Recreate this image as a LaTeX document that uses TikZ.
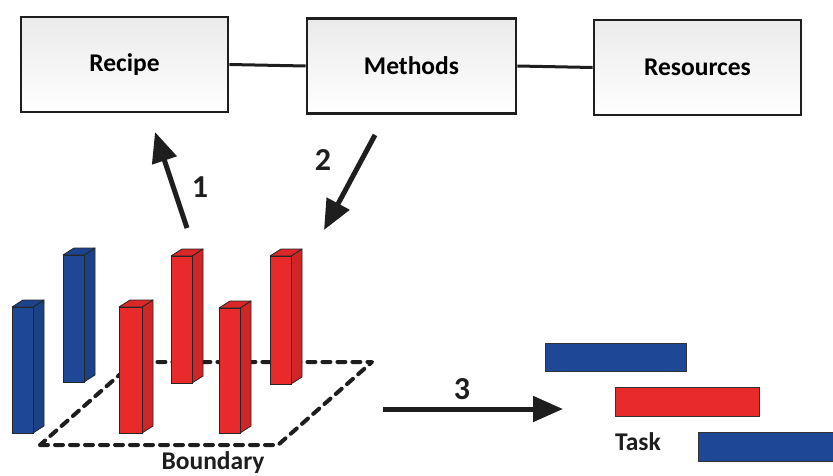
\documentclass[tikz,border=0pt]{standalone}
\usepackage{fontspec}
\setmainfont{Carlito}
\usetikzlibrary{arrows.meta}
\definecolor{barblue}{RGB}{30,72,150}
\definecolor{barred}{RGB}{232,42,42}
\definecolor{ink}{RGB}{30,30,30}
\newcommand\myprism[5]{%
  \path[fill=#5!90!black,draw=black!85,line width=0.8pt,line join=round]
    ({#1+#4},#2) -- ({#1+#4+11},{#2-7}) -- ({#1+#4+11},{#3-7}) -- ({#1+#4},#3) -- cycle;
  \path[fill=#5!94!black,draw=black!85,line width=0.8pt,line join=round]
    (#1,#2) -- ({#1+11},{#2-7}) -- ({#1+#4+11},{#2-7}) -- ({#1+#4},#2) -- cycle;
  \path[fill=#5,draw=black!85,line width=0.8pt] (#1,#2) rectangle ({#1+#4},#3);}
\tikzset{
  box/.style={draw=ink, line width=2.7pt, top color=gray!16, bottom color=white,
    minimum width=207pt, minimum height=95pt, inner sep=0pt,
    font=\fontsize{25.5}{28}\selectfont\bfseries},
  lbl/.style={inner sep=0pt, font=\fontsize{25.5}{28}\selectfont\bfseries, text=ink},
  num/.style={inner sep=0pt, font=\fontsize{32}{34}\selectfont\bfseries, text=ink},
  arr/.style={draw=ink, line width=5pt, -{Triangle[length=30pt,width=25pt]}},
  link/.style={draw=ink, line width=3pt},
  gbar/.style={draw=black!80, line width=1pt, minimum height=28pt, inner sep=0pt},
  bound/.style={draw=ink, line width=4pt, dash pattern=on 8pt off 7pt, line cap=round, line join=round}
}
\begin{document}
\begin{tikzpicture}[x=1pt,y=-1pt]
\useasboundingbox (0,0) rectangle (833,476);
% top boxes
\node[box] (recipe) at (124.5,64.5) {Recipe};
\node[box, minimum width=209pt] (methods) at (411.5,66) {Methods};
\node[box] (resources) at (697.5,67.5) {Resources};
\draw[link] (recipe.east) -- (methods.west);
\draw[link] (methods.east) -- (resources.west);
% arrows 1 and 2
\coordinate (a1s) at (187,228);
\coordinate (a1e) at (155,132);
\coordinate (a2s) at (375,135);
\coordinate (a2e) at (324,230);
\draw[arr] (a1s) -- (a1e);
\draw[arr] (a2s) -- (a2e);
\node[num] (n1) at (200,187) {1};
\node[num] (n2) at (323,160) {2};
% boundary
\draw[bound] (40,445) -- (278,445) -- (372,362) -- (134,362) -- cycle;
% prisms (back first)
\myprism{63}{255}{382}{21}{barblue}
\myprism{171}{256}{383}{21}{barred}
\myprism{270}{256}{384}{21}{barred}
\myprism{12}{307}{433}{21}{barblue}
\myprism{119}{307}{433}{23}{barred}
\myprism{219}{308}{433}{21}{barred}
\node[lbl] (boundary) at (213,462.5) {Boundary};
% arrow 3
\coordinate (a3s) at (383,409);
\coordinate (a3e) at (563,409);
\draw[arr] (a3s) -- (a3e);
\node[num] (n3) at (462,389) {3};
% gantt bars
\node[gbar, fill=barblue, minimum width=141pt] (t1) at (615.5,357) {};
\node[gbar, fill=barred, minimum width=144pt, minimum height=29pt] (t2) at (687,401.5) {};
\node[gbar, fill=barblue, minimum width=150pt, minimum height=29pt] (t3) at (773,446.5) {};
\node[lbl] (task) at (638,442) {Task};
\end{tikzpicture}
\end{document}
